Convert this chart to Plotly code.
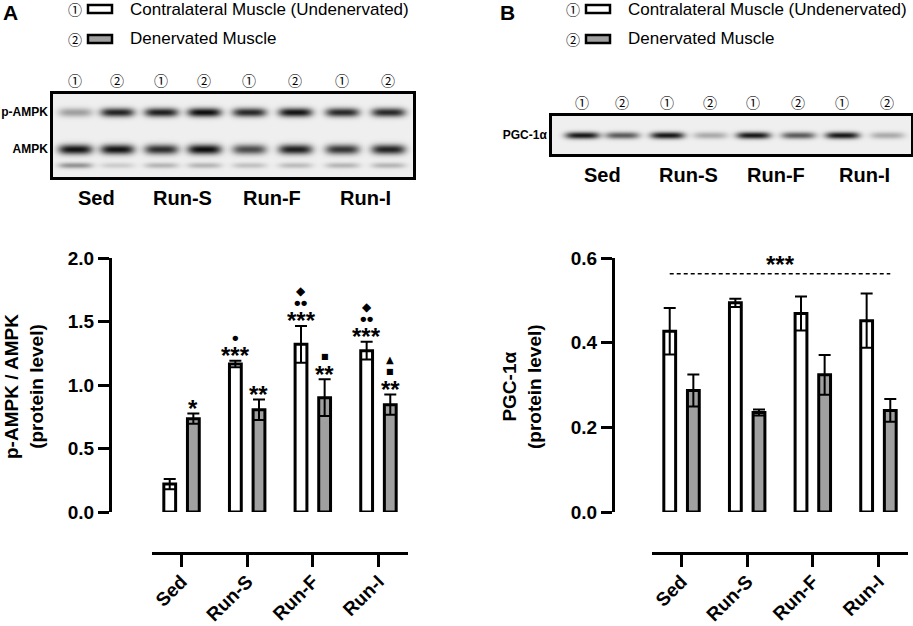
import numpy as np
import plotly.graph_objects as go

groups = ["Sed", "Run-S", "Run-F", "Run-I"]
legend_names = ["Contralateral Muscle (Undenervated)", "Denervated Muscle"]
lane_labels = ["①", "②"] * 4

# A: p-AMPK / AMPK (protein level)
ampk_contra = [0.22, 1.165, 1.32, 1.27]
ampk_contra_err = [0.04, 0.025, 0.145, 0.07]
ampk_dener = [0.735, 0.805, 0.90, 0.845]
ampk_dener_err = [0.04, 0.08, 0.145, 0.08]
# significance marks, bottom to top
ampk_contra_marks = [[], ["***", "•"], ["***", "••", "◆"], ["***", "••", "◆"]]
ampk_dener_marks = [["*"], ["**"], ["**", "■"], ["**", "■", "▲"]]

# B: PGC-1a (protein level)
pgc_contra = [0.427, 0.494, 0.469, 0.452]
pgc_contra_err = [0.055, 0.01, 0.04, 0.064]
pgc_dener = [0.287, 0.235, 0.324, 0.24]
pgc_dener_err = [0.038, 0.007, 0.047, 0.027]
pgc_overall_mark = "***"
pgc_overall_level = 0.563

# blot band densities, one value per lane (Sed 1, Sed 2, Run-S 1, ...)
band_pampk = [0.35, 0.9, 0.92, 1.0, 0.88, 0.97, 0.88, 0.88]
band_ampk = [0.97, 0.97, 0.85, 1.0, 0.72, 0.92, 0.82, 0.9]
band_ampk_low = [0.4, 0.15, 0.25, 0.25, 0.2, 0.22, 0.25, 0.25]
band_pgc = [0.95, 0.65, 0.95, 0.3, 0.95, 0.65, 0.95, 0.3]

W, H = 913, 626
FONT = "Liberation Sans, Arial, sans-serif"
CIRCLED = "Noto Sans CJK JP, DejaVu Sans"
GREY = "#a0a0a0"


def px(x):
    return x / W


def py(y):
    return 1 - y / H


def blot_image(width, height, lanes, bands):
    xs = np.arange(0, width + 1, 2)
    ys = np.arange(0, height + 1, 1)
    X, Y = np.meshgrid(xs, ys)
    z = np.zeros(X.shape)
    for row_y, half_h, dens in bands:
        for xc, d in zip(lanes, dens):
            z += d * np.exp(-((X - xc) / 17.0) ** 4) * np.exp(-((Y - row_y) / half_h) ** 2)
    return xs, ys, np.clip(z, 0, 1)


def paper_text(x, y, text, **kw):
    kw.setdefault("xanchor", "center")
    fig.add_annotation(x=px(x), y=py(y), xref="paper", yref="paper", text=text,
                       showarrow=False, yanchor="middle", **kw)


fig = go.Figure()

# ---- bar panels ----
bw = 0.18
for xa, ya, contra, c_err, dener, d_err in [
    ("x", "y", ampk_contra, ampk_contra_err, ampk_dener, ampk_dener_err),
    ("x2", "y2", pgc_contra, pgc_contra_err, pgc_dener, pgc_dener_err),
]:
    for vals, errs, color, off in [(contra, c_err, "white", -bw - bw / 2), (dener, d_err, GREY, bw - bw / 2)]:
        fig.add_trace(go.Bar(
            x=groups, y=vals, width=bw, offset=off,
            marker=dict(color=color, line=dict(color="black", width=3)),
            error_y=dict(type="data", array=errs, color="black", thickness=2, width=6),
            xaxis=xa, yaxis=ya, hoverinfo="skip",
        ))

# (font size, family, base shift) per mark
mark_style = {
    "*": (24, FONT, 5), "**": (24, FONT, 5), "***": (24, FONT, 5),
    "•": (19, FONT, 0), "••": (19, FONT, 0),
    "◆": (12, "DejaVu Sans", 0), "■": (8, "DejaVu Sans", 0), "▲": (10, "DejaVu Sans", 0),
}
for values, errs, marks, sign in [
    (ampk_contra, ampk_contra_err, ampk_contra_marks, -1),
    (ampk_dener, ampk_dener_err, ampk_dener_marks, 1),
]:
    for i, (v, e, mk) in enumerate(zip(values, errs, marks)):
        for level, m in enumerate(mk):
            size, fam, base = mark_style[m]
            fig.add_annotation(
                x=i + sign * bw, y=v + e, xref="x", yref="y", text=m,
                showarrow=False, xanchor="center", yanchor="middle", yshift=[base, 23, 35][level],
                font=dict(size=size, family=fam, color="black", weight="bold"),
            )

fig.add_shape(type="line", xref="x2", yref="y2", x0=-bw, x1=3 + bw,
              y0=pgc_overall_level, y1=pgc_overall_level,
              line=dict(color="black", width=1.5, dash="4px,3px"))
fig.add_annotation(x=1.5, y=pgc_overall_level, xref="x2", yref="y2", text=pgc_overall_mark,
                   showarrow=False, xanchor="center", yanchor="middle", yshift=9,
                   font=dict(size=24, family=FONT, color="black", weight="bold"))

bar_x = dict(
    type="category", range=[-0.45, 3.45], anchor="free", showline=True, linewidth=3,
    linecolor="black", ticks="outside", ticklen=12, tickwidth=3, tickcolor="black",
    tickangle=-45, tickfont=dict(size=19, family=FONT, color="black", weight="bold"),
    ticklabelstandoff=-4,
    showgrid=False, zeroline=False, fixedrange=True, automargin=False,
)
bar_y = dict(
    anchor="free", showline=True, linewidth=3, linecolor="black", ticks="outside",
    ticklen=11, tickwidth=3, tickcolor="black", tickformat=".1f",
    tickfont=dict(size=19, family=FONT, color="black", weight="bold"),
    showgrid=False, zeroline=False, fixedrange=True, automargin=False,
    domain=[py(512), py(258)],
)

fig.update_layout(
    xaxis=dict(bar_x, domain=[px(152), px(408)], position=py(553)),
    yaxis=dict(bar_y, range=[0, 2.0], tickvals=[0, 0.5, 1.0, 1.5, 2.0], position=px(110)),
    xaxis2=dict(bar_x, domain=[px(652), px(908)], position=py(553)),
    yaxis2=dict(bar_y, range=[0, 0.6], tickvals=[0, 0.2, 0.4, 0.6], position=px(613)),
)

# axis titles
for x, text in [(24, "p-AMPK / AMPK<br>(protein level)"), (522, "PGC-1α<br>(protein level)")]:
    paper_text(x, 387, text, textangle=-90,
               font=dict(size=19, family=FONT, color="black", weight="bold"))

# ---- blots ----
lanes_a = [22, 64, 108, 151, 196, 242, 289, 335]
xs, ys, z = blot_image(360, 83, lanes_a, [(65, 4.5, band_pampk), (28, 5.0, band_ampk), (12, 3.0, band_ampk_low)])
fig.add_trace(go.Heatmap(x=xs, y=ys, z=z, zmin=0, zmax=1, zsmooth="best", showscale=False,
                         colorscale=[[0, "#efefef"], [1, "#0d0d0d"]], xaxis="x3", yaxis="y3",
                         hoverinfo="skip"))
lanes_b = [30, 70, 115, 158, 201, 246, 290, 335]
xs, ys, z = blot_image(359, 38, lanes_b, [(19, 3.5, band_pgc)])
fig.add_trace(go.Heatmap(x=xs, y=ys, z=z, zmin=0, zmax=1, zsmooth="best", showscale=False,
                         colorscale=[[0, "#efefef"], [1, "#0d0d0d"]], xaxis="x4", yaxis="y4",
                         hoverinfo="skip"))

blot_x = dict(showline=True, linewidth=2.5, linecolor="black", mirror=True, side="top",
              ticks="", showgrid=False, zeroline=False, fixedrange=True, automargin=False,
              tickfont=dict(size=14, family=CIRCLED, color="black"))
blot_y = dict(showline=True, linewidth=2.5, linecolor="black", mirror=True, ticks="",
              showgrid=False, zeroline=False, fixedrange=True, automargin=False,
              tickfont=dict(size=12, family=FONT, color="black", weight="bold"))
fig.update_layout(
    xaxis3=dict(blot_x, domain=[px(53), px(413)], range=[0, 360], anchor="y3",
                tickvals=lanes_a, ticktext=lane_labels),
    yaxis3=dict(blot_y, domain=[py(177), py(94)], range=[0, 83], anchor="x3",
                tickvals=[65, 28], ticktext=["p-AMPK", "AMPK"]),
    xaxis4=dict(blot_x, domain=[px(552), px(911)], range=[0, 359], anchor="y4",
                tickvals=lanes_b, ticktext=lane_labels),
    yaxis4=dict(blot_y, domain=[py(154), py(116)], range=[0, 38], anchor="x4",
                tickvals=[19], ticktext=["PGC-1α"]),
)

for xa, lanes, ypos in [("x3", lanes_a, 198), ("x4", lanes_b, 175)]:
    for g, name in enumerate(groups):
        fig.add_annotation(x=(lanes[2 * g] + lanes[2 * g + 1]) / 2, y=py(ypos), xref=xa, yref="paper",
                           text=name, showarrow=False, xanchor="center", yanchor="middle",
                           font=dict(size=20, family=FONT, color="black", weight="bold"))

# ---- panel letters and legends ----
for x, letter in [(10, "A"), (507, "B")]:
    paper_text(x, 12, letter, font=dict(size=21, family=FONT, color="black", weight="bold"))

for x0 in (75, 573):
    for y_row, label, fill, name in [(9, "①", "white", legend_names[0]), (39, "②", GREY, legend_names[1])]:
        paper_text(x0, y_row, label, font=dict(size=14, family=CIRCLED, color="black"))
        fig.add_shape(type="rect", xref="paper", yref="paper", x0=px(x0 + 13), x1=px(x0 + 37),
                      y0=py(y_row - 4), y1=py(y_row + 4), fillcolor=fill,
                      line=dict(color="black", width=2.5))
        paper_text(x0 + 53, y_row, name, xanchor="left",
                   font=dict(size=17, family=FONT, color="black"))

fig.update_layout(
    width=W, height=H, margin=dict(l=0, r=0, t=0, b=0, autoexpand=False), showlegend=False,
    paper_bgcolor="white", plot_bgcolor="white", barmode="overlay",
    font=dict(family=FONT, color="black"),
)

# page body has a default 8px margin; drop it so the figure sits at the window origin
fig.write_html("out.html", config={"displayModeBar": False},
               post_script="document.body.style.margin = '0px';")
